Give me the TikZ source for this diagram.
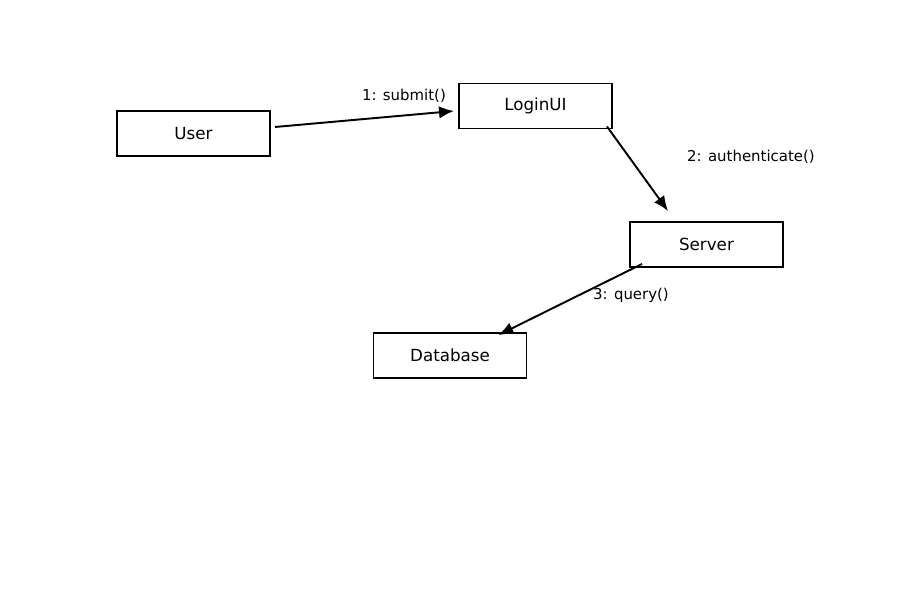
\documentclass[tikz,border=0pt]{standalone}
\usepackage{fontspec}
\setmainfont{DejaVu Sans}
\usetikzlibrary{arrows.meta,calc}
\tikzset{
    % object boxes and message arrows
    objbox/.style={
        rectangle, draw=black, line width=1.1pt, fill=white,
        minimum width=3.06cm, minimum height=0.9cm,
        font=\fontsize{9.5}{11}\selectfont
    },
    msgarrow/.style={
        -{Latex[length=0.3cm,width=0.25cm]}, line width=1.1pt
    },
    msglabel/.style={
        font=\fontsize{8.5}{10}\selectfont
    }
}
\begin{document}
\begin{tikzpicture}
\useasboundingbox (0,0) rectangle (18,12);

\node[objbox] (user) at (3.87,9.33) {User};
\node[objbox] (login) at (10.71,9.88) {LoginUI};
\node[objbox] (server) at (14.13,7.11) {Server};
\node[objbox] (database) at (9.0,4.89) {Database};

\draw[msgarrow] ($(user.east)+(0.08,0.13)$) -- ($(login.west)+(-0.08,-0.1)$);
\draw[msgarrow] ($(login.south east)+(-0.12,0.06)$) -- ($(server.north west)+(0.78,0.2)$);
\draw[msgarrow] ($(server.south west)+(0.26,0.08)$) -- ($(database.north east)+(-0.58,-0.06)$);

\node[msglabel] (m1) at (8.08,10.08) {1: submit()};
\node[msglabel] (m2) at (15.02,8.86) {2: authenticate()};
\node[msglabel] (m3) at (12.62,6.1) {3: query()};

\end{tikzpicture}
\end{document}
